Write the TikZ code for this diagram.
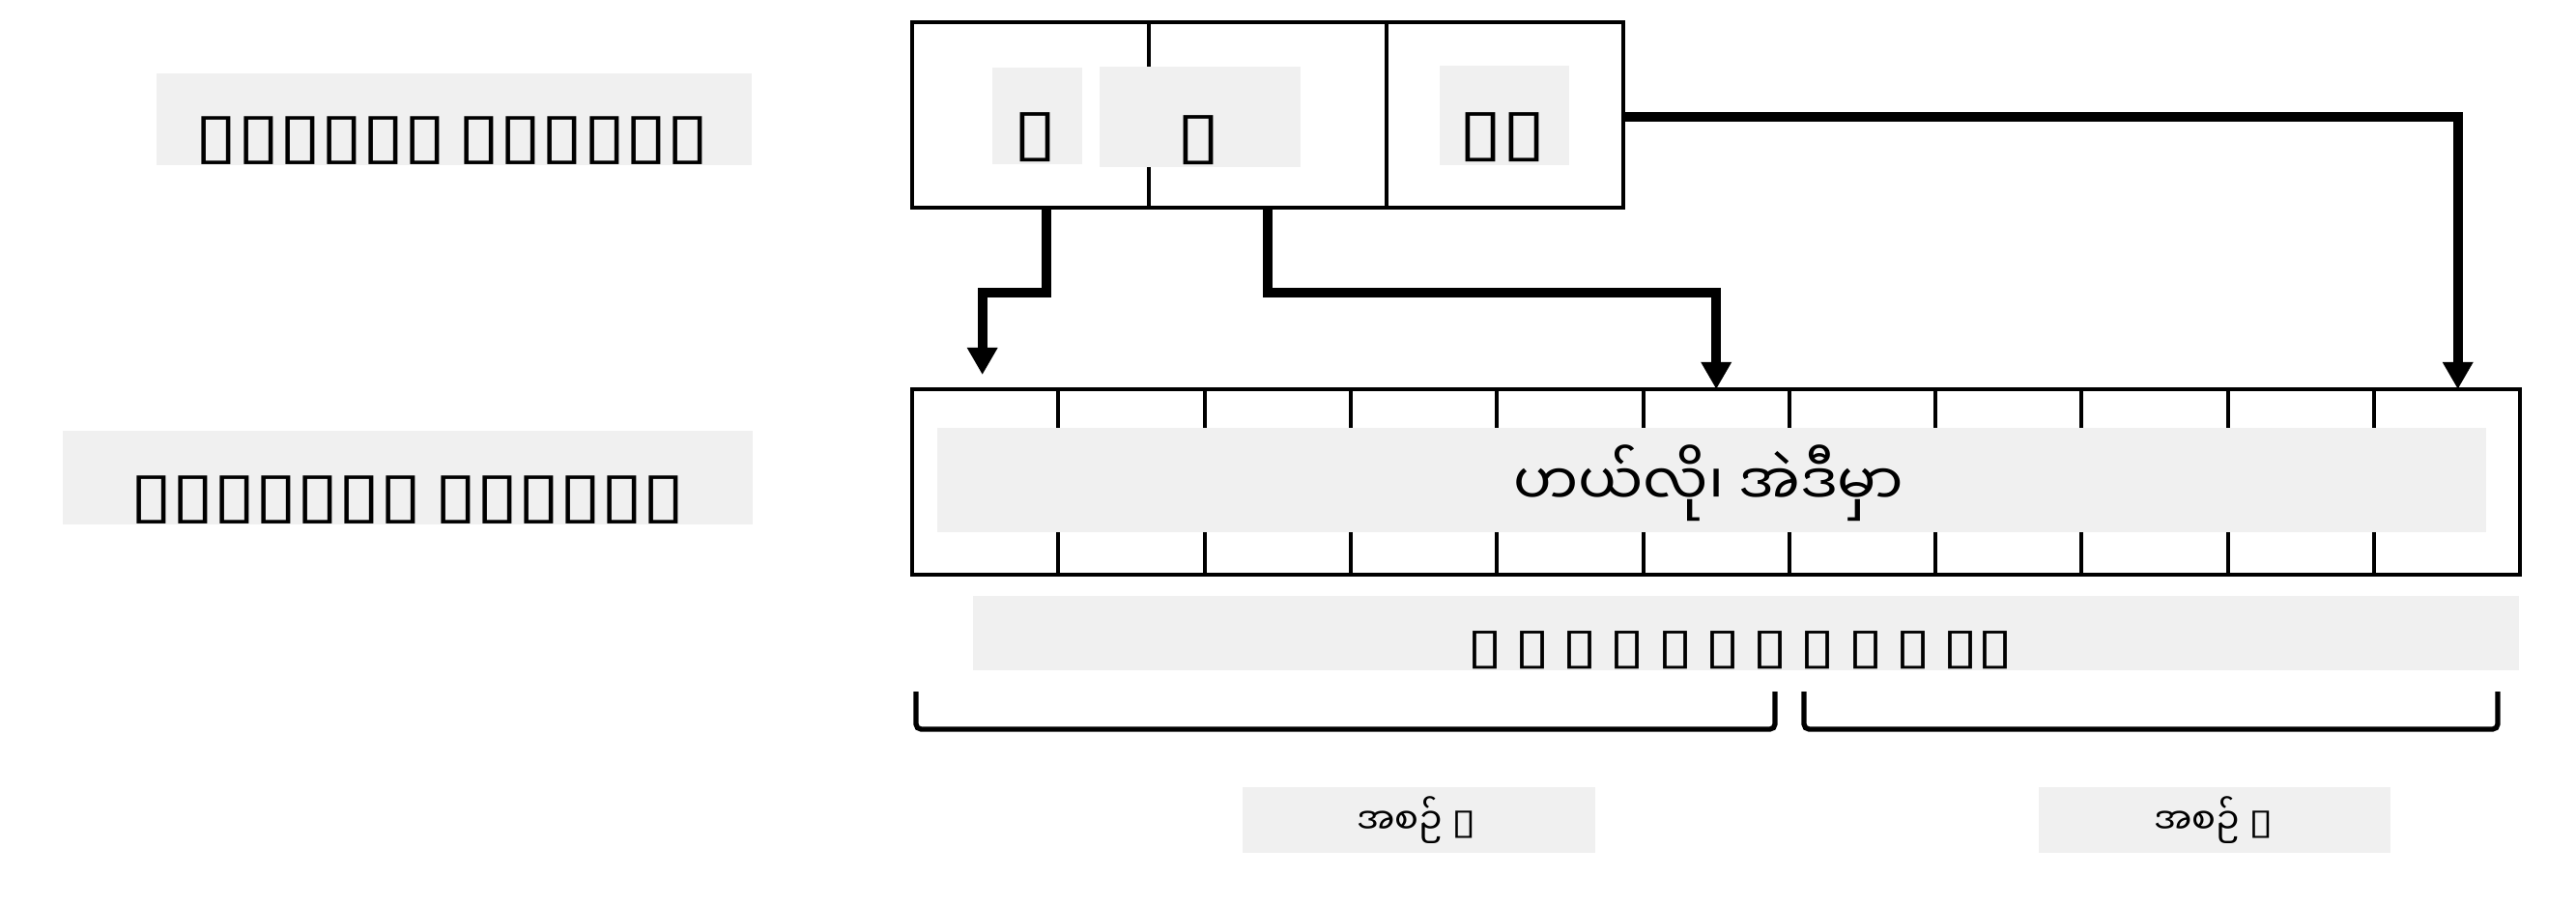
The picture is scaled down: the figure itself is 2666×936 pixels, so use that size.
\documentclass[tikz,border=0pt]{standalone}
\usepackage{fontspec}
\usetikzlibrary{arrows.meta,calc}
\newfontfamily\mya[Script=Myanmar]{Noto Sans Myanmar UI}
\newfontfamily\tofuA[FakeStretch=1.25,LetterSpace=-2.6,WordSpace=0.5]{DejaVu Sans}
\newfontfamily\tofuB[FakeStretch=1.31,LetterSpace=-1.8,WordSpace=0.6]{DejaVu Sans}
\definecolor{lbg}{HTML}{F0F0F0}
\tikzset{
  topcell/.style={draw, line width=1.1pt, minimum width=2.453cm, minimum height=1.92cm, inner sep=0pt, outer sep=0pt, anchor=north west},
  arrcell/.style={draw, line width=1.1pt, minimum width=1.513cm, minimum height=1.92cm, inner sep=0pt, outer sep=0pt, anchor=north west},
  bgfill/.style={fill=lbg, draw=none},
  tofu/.style={inner sep=0pt, outer sep=0pt},
  conn/.style={line width=2.85pt, -{Triangle[length=8pt,width=8.5pt]}},
  brk/.style={line width=1.5pt, rounded corners=1.5pt},
}
\begin{document}
\begin{tikzpicture}[x=0.01cm, y=-0.01cm]
\useasboundingbox (0,0) rectangle (2666,936);

% left labels
\fill[bgfill] (162,76) rectangle (778,171);
\node[tofu, anchor=south, font=\tofuA\fontsize{18.5pt}{20pt}\selectfont] (lblA) at (468,170) {▯▯▯▯▯▯ ▯▯▯▯▯▯};
\fill[bgfill] (65,446) rectangle (779,543);
\node[tofu, anchor=south, font=\tofuA\fontsize{18.5pt}{20pt}\selectfont] (lblB) at (422,542) {▯▯▯▯▯▯▯ ▯▯▯▯▯▯};

% top box
\node[topcell] (t1) at (944,23) {};
\node[topcell] (t2) at (1189.3,23) {};
\node[topcell] (t3) at (1434.6,23) {};
\fill[bgfill] (1027,70) rectangle (1120,170);
\fill[bgfill] (1138,69) rectangle (1346,173);
\fill[bgfill] (1490,68) rectangle (1624,171);
\node[tofu, anchor=south, font=\tofuA\fontsize{19pt}{20pt}\selectfont] (v1) at (1071,168) {▯};
\node[tofu, anchor=south, font=\tofuA\fontsize{19pt}{20pt}\selectfont] (v2) at (1240,171) {▯};
\node[tofu, anchor=south, font=\tofuA\fontsize{19pt}{20pt}\selectfont] (v3) at (1555,168) {▯▯};

% array
\foreach \i in {0,...,10} {
  \node[arrcell] (c\i) at ({944+151.3*\i},403) {};
}
\fill[bgfill] (970,443) rectangle (2573,551);
\node[inner sep=0pt, font=\mya\fontsize{17pt}{20pt}\selectfont] (word) at (1768,500) {ဟယ်လို၊ အဲဒီမှာ};

% index row
\fill[bgfill] (1007,617) rectangle (2607,694);
\node[tofu, anchor=south, font=\tofuB\fontsize{14.6pt}{16pt}\selectfont] (idx) at (1801,693) {▯ ▯ ▯ ▯ ▯ ▯ ▯ ▯ ▯ ▯ ▯▯};

% brackets
\draw[brk] (948,716) -- (948,755) -- (1837,755) -- (1837,716);
\draw[brk] (1867,716) -- (1867,755) -- (2585,755) -- (2585,716);

% bottom labels
\fill[bgfill] (1286,815) rectangle (1651,883);
\node[inner sep=0pt, font=\mya\fontsize{10.5pt}{12pt}\selectfont] (s1) at (1466,849) {အစဉ် {\tofuA ▯}};
\fill[bgfill] (2110,815) rectangle (2474,883);
\node[inner sep=0pt, font=\mya\fontsize{10.5pt}{12pt}\selectfont] (s2) at (2291,849) {အစဉ် {\tofuA ▯}};

% connectors
\draw[conn] ($(t1.south)+(16,0)$) -- ++(0,88) -| ($(c0.north)+(-3,-15)$);
\draw[conn] (t2.south) -- ++(0,88) -| (c5.north);
\draw[conn] ($(t3.east)+(0,2)$) -| ($(c10.north)+(11,0)$);
\end{tikzpicture}
\end{document}
